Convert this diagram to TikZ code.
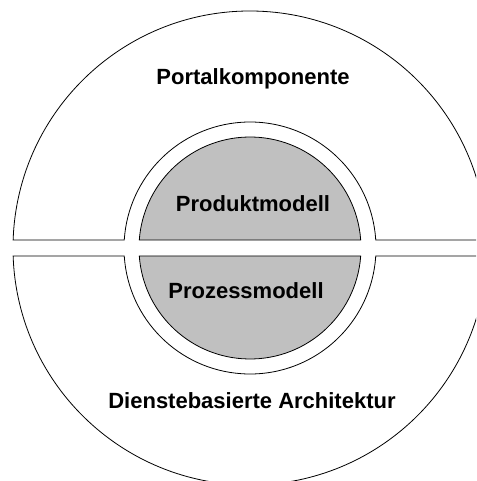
\documentclass[tikz,border=0pt]{standalone}
\usepackage{fontspec}
\setmainfont{Liberation Sans}
\usepackage{tikz}
\usetikzlibrary{positioning}
\definecolor{modellgrau}{RGB}{192,192,192}

\begin{document}
\begin{tikzpicture}[x = 1pt, y = 1pt,
    ring/.style = { draw, line width = .8pt, fill = white },
    kern/.style = { draw, line width = .8pt, fill = modellgrau },
    every node/.style = { font = \bfseries\fontsize{22}{26}\selectfont, anchor = base, inner sep = 0pt }]
  \useasboundingbox (-250,-233) rectangle (226,248);
  \clip (-250,-233) rectangle (226,248);
  % aeusserer ring, oben und unten
  \draw[ring] (178.07:237) arc[start angle = 178.07, end angle = 1.93, radius = 237]
    -- (3.64:126) arc[start angle = 3.64, end angle = 176.36, radius = 126] -- cycle;
  \draw[ring] (-178.07:237) arc[start angle = -178.07, end angle = -1.93, radius = 237]
    -- (-3.64:126) arc[start angle = -3.64, end angle = -176.36, radius = 126] -- cycle;
  % innerer kern
  \draw[kern] (4.13:111) arc[start angle = 4.13, end angle = 175.87, radius = 111] -- cycle;
  \draw[kern] (-4.13:111) arc[start angle = -4.13, end angle = -175.87, radius = 111] -- cycle;
  \node (portal) at (3,163) { Portalkomponente };
  \node (produkt) at (3,36) { Produktmodell };
  \node (prozess) at (-4,-51) { Prozessmodell };
  \node (dienste) at (2,-160) { Dienstebasierte Architektur };
\end{tikzpicture}
\end{document}
